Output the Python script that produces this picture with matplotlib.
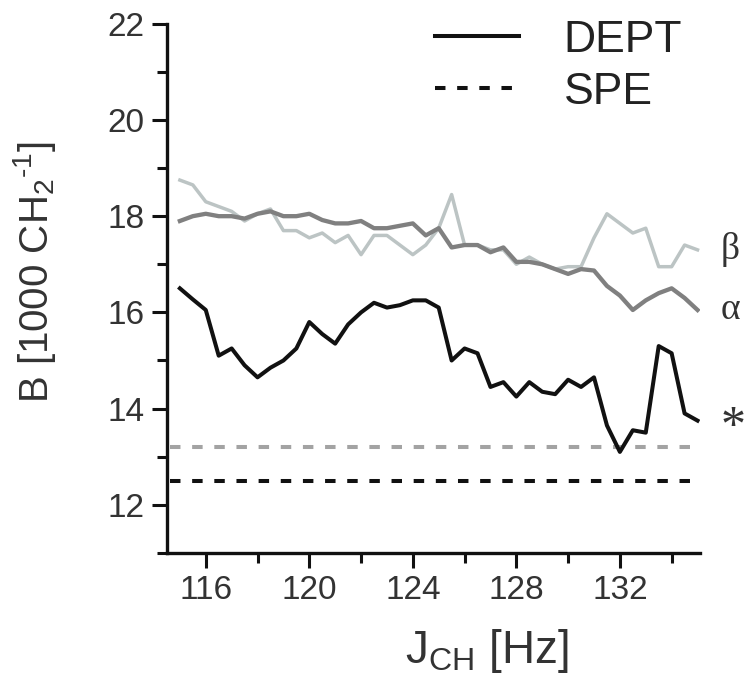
import numpy as np
import matplotlib
matplotlib.use("Agg")
import matplotlib.pyplot as plt
from matplotlib.ticker import MultipleLocator

plt.rcParams['font.family'] = ['Liberation Sans', 'DejaVu Sans']
plt.rcParams['mathtext.fontset'] = 'custom'
plt.rcParams['mathtext.rm'] = 'Liberation Sans'
plt.rcParams['mathtext.it'] = 'Liberation Sans:italic'

# coupling constant grid [Hz]
j_ch = [115.0, 115.5, 116.0, 116.5, 117.0, 117.5, 118.0, 118.5, 119.0, 119.5,
        120.0, 120.5, 121.0, 121.5, 122.0, 122.5, 123.0, 123.5, 124.0, 124.5,
        125.0, 125.5, 126.0, 126.5, 127.0, 127.5, 128.0, 128.5, 129.0, 129.5,
        130.0, 130.5, 131.0, 131.5, 132.0, 132.5, 133.0, 133.5, 134.0, 134.5,
        135.0]

# DEPT curves (B in 1000 CH2^-1)
dept_star = [16.5, 16.27, 16.05, 15.1, 15.25, 14.9, 14.65, 14.85, 15.0, 15.25,
             15.8, 15.55, 15.35, 15.75, 16.0, 16.2, 16.1, 16.15, 16.25, 16.25,
             16.1, 15.0, 15.25, 15.15, 14.45, 14.55, 14.25, 14.55, 14.35, 14.3,
             14.6, 14.45, 14.65, 13.65, 13.1, 13.55, 13.5, 15.3, 15.15, 13.9,
             13.75]
dept_alpha = [17.9, 18.0, 18.05, 18.0, 18.0, 17.95, 18.05, 18.1, 18.0, 18.0,
              18.05, 17.92, 17.85, 17.85, 17.9, 17.75, 17.75, 17.8, 17.85, 17.6,
              17.75, 17.35, 17.4, 17.4, 17.25, 17.35, 17.05, 17.05, 17.0, 16.9,
              16.8, 16.9, 16.87, 16.55, 16.35, 16.05, 16.25, 16.4, 16.5, 16.3,
              16.05]
dept_beta = [18.75, 18.65, 18.3, 18.2, 18.1, 17.9, 18.05, 18.15, 17.7, 17.7,
             17.55, 17.65, 17.45, 17.6, 17.2, 17.6, 17.6, 17.4, 17.2, 17.4,
             17.75, 18.45, 17.4, 17.4, 17.3, 17.3, 17.0, 17.15, 17.0, 16.9,
             16.95, 16.95, 17.55, 18.05, 17.85, 17.65, 17.75, 16.95, 16.95, 17.4,
             17.3]

# SPE reference levels
spe_gray = 13.2
spe_black = 12.5

c_black = '#111111'
c_alpha = '#808080'
c_beta = '#bcc4c4'
c_spe_gray = '#a3a3a3'

fig = plt.figure(figsize=(7.52, 6.99), dpi=100)
ax = fig.add_axes([0.222, 0.209, 0.709, 0.757])

dash = (0, (2.6, 2.9))
x1 = j_ch[-1]
ax.hlines(spe_gray, 114.6, x1, colors=c_spe_gray, linewidth=2.9, linestyles=[dash])
spe_line, = ax.plot([114.6, x1], [spe_black, spe_black], color=c_black,
                    linewidth=2.9, linestyle=dash)

ax.plot(j_ch, dept_beta, color=c_beta, linewidth=2.5)
ax.plot(j_ch, dept_alpha, color=c_alpha, linewidth=3.1)
dept_line, = ax.plot(j_ch, dept_star, color=c_black, linewidth=2.9)

# labels at the right end of the curves
serif = ['Liberation Serif', 'DejaVu Serif']
ax.text(135.9, 17.3, 'β', fontsize=27, color='#333333', family=serif,
        va='center', ha='left', clip_on=False)
ax.text(135.9, 16.05, 'α', fontsize=27, color='#333333', family=serif,
        va='center', ha='left', clip_on=False)
ax.text(135.9, 13.6, '*', fontsize=36, color='#333333', family=serif,
        va='center', ha='left', clip_on=False)

ax.set_xlim(114.5, 135.1)
ax.set_ylim(11, 22)
ax.set_xticks([116, 120, 124, 128, 132])
ax.xaxis.set_minor_locator(MultipleLocator(2))
ax.yaxis.set_major_locator(MultipleLocator(2))
ax.yaxis.set_minor_locator(MultipleLocator(1))

for s in ['top', 'right']:
    ax.spines[s].set_visible(False)
for s in ['left', 'bottom']:
    ax.spines[s].set_linewidth(2.4)
    ax.spines[s].set_color('#111111')

ax.tick_params(which='major', direction='out', length=11, width=2.2,
               labelsize=24, colors='#111111', labelcolor='#333333', pad=5)
ax.tick_params(which='minor', direction='out', length=7, width=2.2, colors='#111111')

ax.set_xlabel(r'J$_{\mathregular{CH}}$ [Hz]', fontsize=33, color='#333333')
ax.xaxis.set_label_coords(0.6, -0.14)
ax.set_ylabel(r'B [1000 CH$_{\mathregular{2}}$$^{\text{-1}}$]', fontsize=29,
              color='#333333')
ax.yaxis.set_label_coords(-0.205, 0.53)

leg = ax.legend([dept_line, spe_line], ['DEPT', 'SPE'], loc='upper left',
                bbox_to_anchor=(0.578, 0.972), bbox_transform=fig.transFigure,
                frameon=False, fontsize=32, handlelength=1.9, handletextpad=1.0,
                labelspacing=0.25, borderpad=0, borderaxespad=0)
for t in leg.get_texts():
    t.set_color('#222222')

fig.savefig('out.png', dpi=100)
